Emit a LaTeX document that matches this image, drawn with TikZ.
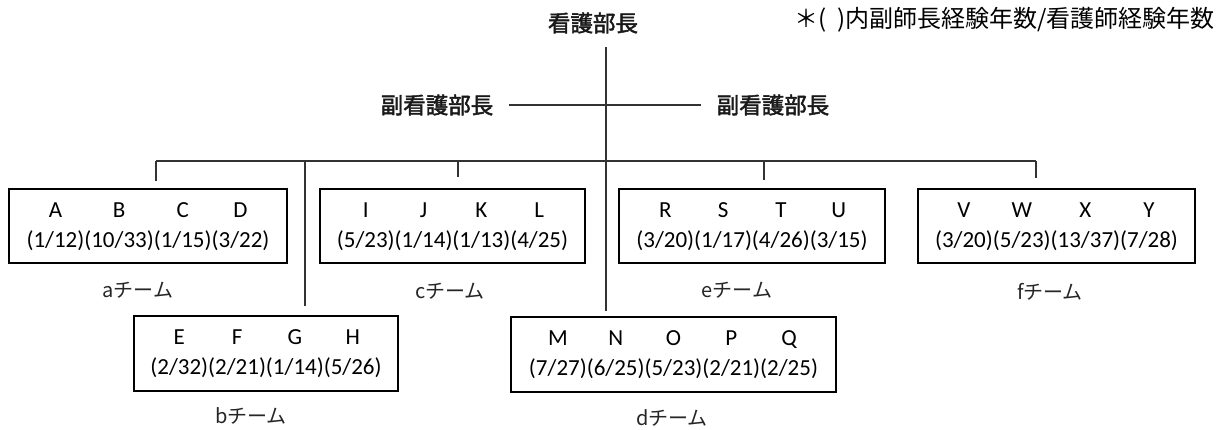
\documentclass[tikz,border=0pt]{standalone}
\usepackage{fontspec}
\setmainfont{Carlito}
\newfontfamily\jp{Noto Sans CJK JP}
\newfontfamily\jpm[FakeBold=2]{Noto Sans CJK JP}
\begin{document}
\begin{tikzpicture}[x=1pt,y=-1pt,
  conn/.style={draw=black!80, line width=1.1pt},
  teambox/.style={draw=black, line width=1.8pt, minimum height=74pt, inner sep=0pt, font=\fontsize{23}{30}\selectfont},
  title/.style={inner sep=0pt, font=\jpm\fontsize{22.5}{26}\selectfont, text=black!90},
  tlabel/.style={inner sep=0pt, font=\jp\fontsize{20}{24}\selectfont, text=black!85}]
\useasboundingbox (0,0) rectangle (1219,429);
% titles
\node[title] (head) at (593,23) {看護部長};
\node[inner sep=0pt, anchor=east, font=\jp\fontsize{24}{28}\selectfont] (note) at (1215,20) {＊(\hspace{0.45em})内副師長経験年数/看護師経験年数};
\node[title] (vice1) at (437,105) {副看護部長};
\node[title] (vice2) at (773,105) {副看護部長};
% boxes
\node[teambox, minimum width=278pt] (a) at (148,226) {\begin{tabular}{@{}c@{}c@{}c@{}c@{}}A&B&C&D\\(1/12)&(10/33)&(1/15)&(3/22)\end{tabular}};
\node[teambox, minimum width=265pt] (c) at (452.5,226) {\begin{tabular}{@{}c@{}c@{}c@{}c@{}}I&J&K&L\\(5/23)&(1/14)&(1/13)&(4/25)\end{tabular}};
\node[teambox, minimum width=266pt] (e) at (752,226) {\begin{tabular}{@{}c@{}c@{}c@{}c@{}}R&S&T&U\\(3/20)&(1/17)&(4/26)&(3/15)\end{tabular}};
\node[teambox, minimum width=277pt] (f) at (1056.5,226) {\begin{tabular}{@{}c@{}c@{}c@{}c@{}}V&W&X&Y\\(3/20)&(5/23)&(13/37)&(7/28)\end{tabular}};
\node[teambox, minimum width=264pt, minimum height=75pt] (b) at (266,353.5) {\begin{tabular}{@{}c@{}c@{}c@{}c@{}}E&F&G&H\\(2/32)&(2/21)&(1/14)&(5/26)\end{tabular}};
\node[teambox, minimum width=325pt, minimum height=75pt] (d) at (673.5,354.5) {\begin{tabular}{@{}c@{}c@{}c@{}c@{}c@{}}M&N&O&P&Q\\(7/27)&(6/25)&(5/23)&(2/21)&(2/25)\end{tabular}};
% team labels
\node[tlabel] (la) at (138,290) {aチーム};
\node[tlabel] (lc) at (450,291) {cチーム};
\node[tlabel] (le) at (737,290) {eチーム};
\node[tlabel] (lf) at (1050,292) {fチーム};
\node[tlabel] (lb) at (251,416) {bチーム};
\node[tlabel] (ld) at (672,418) {dチーム};
% connectors
\coordinate (top) at (606,47);
\coordinate (dd) at (606,311);
\draw[conn] (top) -- (dd);
\draw[conn, shorten <=16pt, shorten >=16pt] (vice1) -- (vice2);
\coordinate (busL) at (156,161);
\coordinate (busR) at (1036,161);
\draw[conn] (busL) -- (busR);
\coordinate (da) at (156,181);
\draw[conn] (busL) -- (da);
\coordinate (bc) at (458,161);
\coordinate (dc) at (458,177);
\draw[conn] (bc) -- (dc);
\coordinate (be) at (764,161);
\coordinate (de) at (764,180);
\draw[conn] (be) -- (de);
\coordinate (df) at (1036,178);
\draw[conn] (busR) -- (df);
\coordinate (bb) at (305,161);
\coordinate (db) at (305,306);
\draw[conn] (bb) -- (db);
\end{tikzpicture}
\end{document}
